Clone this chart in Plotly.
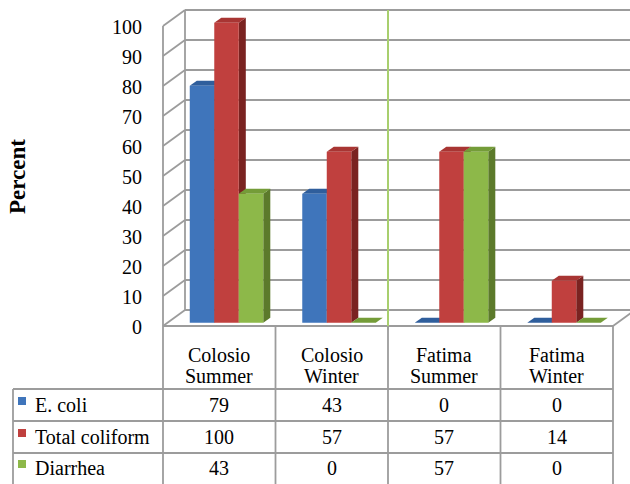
import plotly.graph_objects as go

# ---------------- data ----------------
categories = ["Colosio<br>Summer", "Colosio<br>Winter", "Fatima<br>Summer", "Fatima<br>Winter"]
series_names = ["E. coli", "Total coliform", "Diarrhea"]
ecoli = [79, 43, 0, 0]
total_coliform = [100, 57, 57, 14]
diarrhea = [43, 0, 57, 0]
y_ticks = [0, 10, 20, 30, 40, 50, 60, 70, 80, 90, 100]
y_title = "Percent"

series_values = [ecoli, total_coliform, diarrhea]

# ---------------- styles ----------------
FRONT = ["#3f75bb", "#c0403e", "#8db849"]
SIDE = ["#28497a", "#7a2321", "#5c7a2b"]
TOP = ["#2f5e9c", "#a83533", "#749c38"]
GRID = "#9c9c9c"
FONT = "Liberation Serif"
FS = 20

W_PX, H_PX = 630, 484
X0_PX, UNIT_PX = 163.0, 112.5     # front-left corner, px per category
V0_PX, VPX = 326.0, 3.0           # front zero line, px per percent


def xd(px):
    return -0.5 + (px - X0_PX) / UNIT_PX


def vd(py):
    return (V0_PX - py) / VPX


DX = 22 / UNIT_PX          # wall depth in x units
DV = 16 / VPX              # wall depth in value units
BW = 24.5 / UNIT_PX        # bar width
base = 3.3 / VPX           # bar front bottom above floor front edge
ox = 0.33 * DX             # bar front x shift
ddx, ddv = 0.32 * DX, 5 / VPX   # bar depth

x_left, x_right = xd(0), xd(W_PX)
v_bot, v_top = vd(H_PX), vd(0)

fig = go.Figure()
shapes = []
annotations = []


def line(x0, y0, x1, y1, color=GRID, width=1.8):
    shapes.append(dict(type="line", xref="x", yref="y", x0=x0, y0=y0, x1=x1, y1=y1,
                       line=dict(color=color, width=width), layer="below"))


def poly(pts, color):
    path = "M " + " L ".join(f"{x},{y}" for x, y in pts) + " Z"
    shapes.append(dict(type="path", xref="x", yref="y", path=path, fillcolor=color,
                       line=dict(width=0), layer="below"))


def text(x, y, s, anchor="center", size=FS, angle=0):
    annotations.append(dict(x=x, y=y, xref="x", yref="y", text=s, showarrow=False,
                            xanchor=anchor, yanchor="middle", textangle=angle,
                            font=dict(family=FONT, size=size, color="#000000")))


ncat = len(categories)
# walls and gridlines
for t in y_ticks:
    line(-0.5, t, -0.5 + DX, t + DV)
    line(-0.5 + DX, t + DV, x_right, t + DV)
line(-0.5 + DX, DV, -0.5 + DX, y_ticks[-1] + DV)
line(-0.5, 0, -0.5, y_ticks[-1])
line(-0.5, 0, ncat - 0.5, 0)
line(ncat - 0.5, 0, ncat - 0.5 + DX, DV)
# separator between sites
line(1.5, vd(330), 1.5, y_ticks[-1] + DV, color="#a8cf6e", width=2)

# bars: side and top faces (fronts are Bar traces)
for s, vals in enumerate(series_values):
    xs = []
    for i, v in enumerate(vals):
        xc = i + ox + (s - 1) * BW
        xs.append(xc)
        xl, xr = xc - BW / 2, xc + BW / 2
        vt = base + v
        if v > 0:
            poly([(xr, base), (xr + ddx, base + ddv), (xr + ddx, vt + ddv), (xr, vt)], SIDE[s])
        poly([(xl, vt), (xr, vt), (xr + ddx, vt + ddv), (xl + ddx, vt + ddv)], TOP[s])
    fig.add_trace(go.Bar(x=xs, y=vals, base=base, width=BW, name=series_names[s],
                         marker=dict(color=FRONT[s], line=dict(width=0)),
                         showlegend=False, hoverinfo="skip"))

# y tick labels and title
for t in y_ticks:
    text(xd(144), t - 0.4, str(t), anchor="right")
text(xd(17), vd(177), f"<b>{y_title}</b>", size=23, angle=-90)

# data table
row_py = [389, 421, 453]
row_mid = [405, 437, 468]
tbl_left = xd(13)
for i in range(ncat + 1):
    line(i - 0.5, 0, i - 0.5, v_bot)
for py in row_py:
    line(tbl_left, vd(py), ncat - 0.5, vd(py))
line(tbl_left, vd(row_py[0]), tbl_left, v_bot)

for i, c in enumerate(categories):
    parts = c.split("<br>")
    text(i, vd(355), parts[0])
    text(i, vd(376), parts[1])
for s, vals in enumerate(series_values):
    ym = vd(row_mid[s])
    shapes.append(dict(type="rect", xref="x", yref="y", x0=xd(18), x1=xd(26),
                       y0=vd(row_mid[s] - 8), y1=vd(row_mid[s]), fillcolor=FRONT[s],
                       line=dict(width=0), layer="above"))
    text(xd(33), ym, series_names[s], anchor="left")
    for i, v in enumerate(vals):
        text(i, ym, str(v))

fig.update_layout(
    width=W_PX, height=H_PX,
    margin=dict(l=0, r=0, t=0, b=0),
    paper_bgcolor="white", plot_bgcolor="white",
    barmode="overlay",
    shapes=shapes, annotations=annotations,
    xaxis=dict(range=[x_left, x_right], visible=False, fixedrange=True),
    yaxis=dict(range=[v_bot, v_top], visible=False, fixedrange=True),
)
fig.write_html("out.html")
